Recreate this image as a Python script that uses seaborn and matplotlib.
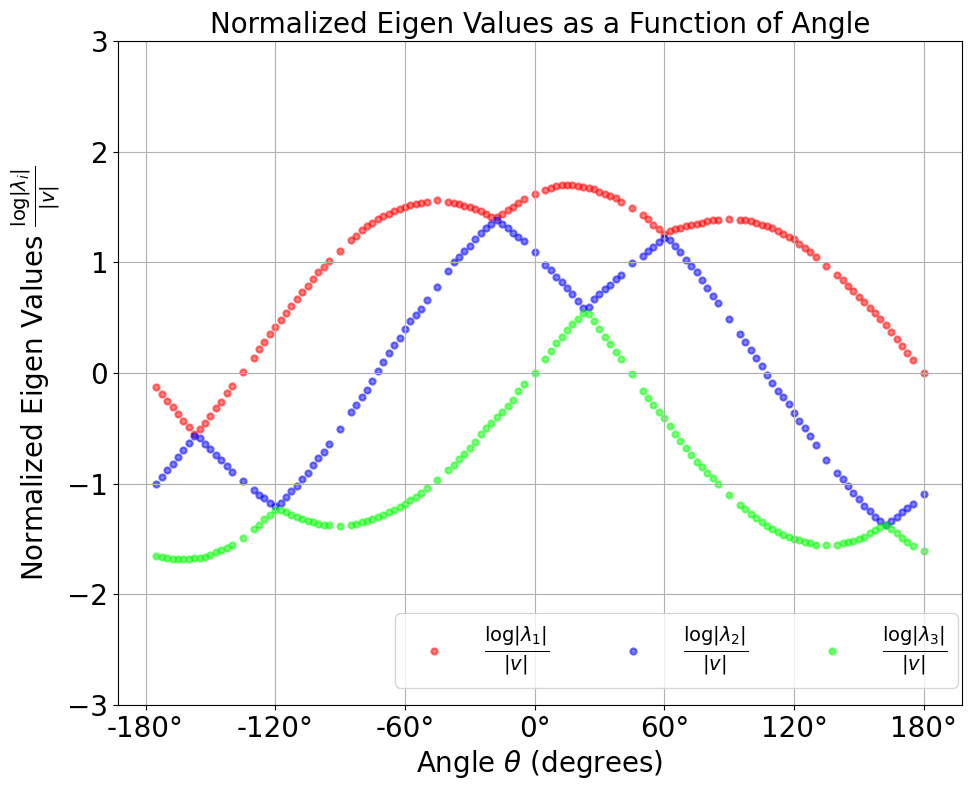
import matplotlib
matplotlib.use("Agg")
import matplotlib.pyplot as plt
import seaborn as sns
import pandas as pd

# angles (degrees) shared by the three eigenvalue curves
angles = [
    -175, -172.5, -170, -167.5, -165, -162.5, -160, -157.5, -155, -152.5, -150, -147.5, -145, -142.5, -140, -135,
    -130, -127.5, -125, -122.5, -120, -117.5, -115, -112.5, -110, -107.5, -105, -102.5, -100, -97.5, -95, -90,
    -85, -82.5, -80, -77.5, -75, -72.5, -70, -67.5, -65, -62.5, -60, -57.5, -55, -52.5, -50, -45,
    -40, -37.5, -35, -32.5, -30, -27.5, -25, -22.5, -20, -17.5, -15, -12.5, -10, -7.5, -5, 0,
    5, 7.5, 10, 12.5, 15, 17.5, 20, 22.5, 25, 27.5, 30, 32.5, 35, 37.5, 40, 45,
    50, 52.5, 55, 57.5, 60, 62.5, 65, 67.5, 70, 72.5, 75, 77.5, 80, 82.5, 85, 90,
    95, 97.5, 100, 102.5, 105, 107.5, 110, 112.5, 115, 117.5, 120, 122.5, 125, 127.5, 130, 135,
    140, 142.5, 145, 147.5, 150, 152.5, 155, 157.5, 160, 162.5, 165, 167.5, 170, 172.5, 175, 180,
]

lam1 = [
    -0.13, -0.19, -0.25, -0.31, -0.37, -0.43, -0.49, -0.55, -0.51, -0.45, -0.39, -0.32, -0.26, -0.18, -0.12, 0.01,
    0.14, 0.22, 0.28, 0.35, 0.42, 0.48, 0.54, 0.61, 0.67, 0.73, 0.79, 0.85, 0.91, 0.96, 1.01, 1.10,
    1.20, 1.24, 1.29, 1.33, 1.36, 1.39, 1.42, 1.44, 1.46, 1.48, 1.50, 1.52, 1.53, 1.54, 1.55, 1.56,
    1.55, 1.54, 1.53, 1.51, 1.50, 1.48, 1.46, 1.44, 1.41, 1.41, 1.44, 1.47, 1.50, 1.54, 1.57, 1.62,
    1.65, 1.67, 1.69, 1.70, 1.70, 1.70, 1.69, 1.68, 1.67, 1.66, 1.64, 1.62, 1.60, 1.58, 1.55, 1.49,
    1.43, 1.39, 1.34, 1.30, 1.26, 1.28, 1.30, 1.31, 1.33, 1.34, 1.35, 1.36, 1.37, 1.38, 1.38, 1.39,
    1.38, 1.38, 1.37, 1.36, 1.34, 1.33, 1.31, 1.28, 1.26, 1.23, 1.21, 1.17, 1.13, 1.09, 1.05, 0.97,
    0.89, 0.84, 0.79, 0.74, 0.69, 0.64, 0.59, 0.54, 0.49, 0.43, 0.37, 0.31, 0.24, 0.18, 0.12, 0.00,
]

lam2 = [
    -1.00, -0.94, -0.88, -0.82, -0.76, -0.70, -0.63, -0.57, -0.59, -0.64, -0.69, -0.74, -0.79, -0.84, -0.89, -0.98,
    -1.06, -1.10, -1.13, -1.17, -1.20, -1.17, -1.12, -1.07, -1.02, -0.96, -0.90, -0.83, -0.77, -0.71, -0.64, -0.51,
    -0.35, -0.29, -0.22, -0.15, -0.07, 0.02, 0.10, 0.18, 0.25, 0.32, 0.40, 0.47, 0.52, 0.58, 0.66, 0.78,
    0.92, 1.00, 1.05, 1.10, 1.15, 1.21, 1.27, 1.31, 1.35, 1.38, 1.35, 1.31, 1.27, 1.23, 1.19, 1.09,
    0.98, 0.93, 0.87, 0.82, 0.77, 0.71, 0.65, 0.59, 0.60, 0.67, 0.71, 0.76, 0.80, 0.85, 0.89, 0.99,
    1.06, 1.10, 1.14, 1.18, 1.22, 1.20, 1.15, 1.09, 1.02, 0.97, 0.91, 0.84, 0.77, 0.70, 0.63, 0.49,
    0.35, 0.28, 0.21, 0.14, 0.06, -0.02, -0.09, -0.16, -0.22, -0.28, -0.36, -0.43, -0.50, -0.57, -0.65, -0.79,
    -0.90, -0.96, -1.02, -1.08, -1.14, -1.20, -1.25, -1.30, -1.34, -1.37, -1.34, -1.30, -1.26, -1.22, -1.18, -1.09,
]

lam3 = [
    -1.65, -1.66, -1.67, -1.68, -1.68, -1.68, -1.68, -1.67, -1.67, -1.66, -1.64, -1.62, -1.60, -1.58, -1.55, -1.49,
    -1.41, -1.37, -1.32, -1.28, -1.24, -1.24, -1.26, -1.28, -1.30, -1.32, -1.34, -1.35, -1.36, -1.37, -1.37, -1.38,
    -1.37, -1.36, -1.35, -1.34, -1.32, -1.30, -1.28, -1.26, -1.24, -1.21, -1.18, -1.15, -1.12, -1.08, -1.04, -0.97,
    -0.88, -0.83, -0.78, -0.73, -0.68, -0.62, -0.55, -0.50, -0.45, -0.40, -0.35, -0.30, -0.24, -0.16, -0.10, 0.00,
    0.13, 0.20, 0.27, 0.33, 0.39, 0.44, 0.49, 0.54, 0.53, 0.47, 0.40, 0.33, 0.26, 0.19, 0.13, -0.01,
    -0.16, -0.23, -0.29, -0.35, -0.41, -0.48, -0.55, -0.61, -0.68, -0.74, -0.80, -0.85, -0.90, -0.95, -1.00, -1.10,
    -1.19, -1.23, -1.27, -1.31, -1.35, -1.38, -1.41, -1.44, -1.46, -1.48, -1.50, -1.51, -1.53, -1.54, -1.55, -1.55,
    -1.55, -1.54, -1.53, -1.52, -1.50, -1.48, -1.45, -1.42, -1.39, -1.37, -1.41, -1.45, -1.49, -1.53, -1.56, -1.61,
]

labels = [r"$\frac{\log|\lambda_1|}{|v|}$",
          r"$\frac{\log|\lambda_2|}{|v|}$",
          r"$\frac{\log|\lambda_3|}{|v|}$"]
colors = ["#ff0000", "#0000ff", "#00ff00"]

xtick_vals = [-180, -120, -60, 0, 60, 120, 180]
xtick_labels = [f"{v}°" for v in xtick_vals]
ytick_vals = [-3, -2, -1, 0, 1, 2, 3]

df = pd.DataFrame({"angle": angles, "l1": lam1, "l2": lam2, "l3": lam3})

fig, ax = plt.subplots(figsize=(9.72, 7.9), dpi=100)
fig.subplots_adjust(left=0.1214, right=0.9897, bottom=0.1076, top=0.948)

for col, lab, c in zip(["l1", "l2", "l3"], labels, colors):
    sns.scatterplot(data=df, x="angle", y=col, color=c, label=lab, alpha=0.5,
                    s=20, edgecolor="face", linewidth=1.5, ax=ax)

ax.set_ylim(-3, 3)
ax.set_yticks(ytick_vals)
ax.set_xticks(xtick_vals)
ax.set_xticklabels(xtick_labels)
ax.tick_params(labelsize=20)
ax.grid(True)

ax.set_title("Normalized Eigen Values as a Function of Angle", fontsize=20)
ax.set_xlabel(r"Angle $\theta$ (degrees)", fontsize=20)
ax.set_ylabel(r"Normalized Eigen Values $\frac{\log|\lambda_i|}{|v|}$", fontsize=20)
ax.legend(loc="lower right", ncol=3, fontsize=20,
          bbox_to_anchor=(0.9953, 0.0256), borderaxespad=0)

fig.savefig("out.png", dpi=100)
